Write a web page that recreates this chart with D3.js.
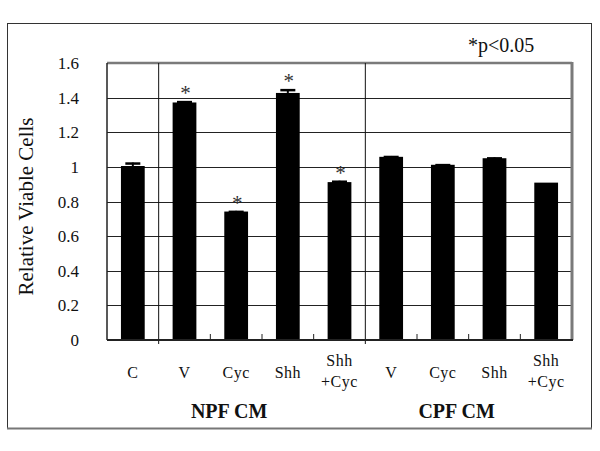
<!DOCTYPE html>
<html lang="en">
<head>
<meta charset="UTF-8" />
<title>Relative Viable Cells</title>
<script src="https://cdnjs.cloudflare.com/ajax/libs/d3/7.8.5/d3.min.js"></script>
<style>
  body { margin: 0; background: #fff; }
  svg text { font-family: "Times New Roman", "Liberation Serif", "DejaVu Serif", serif; fill: #111; }
</style>
</head>
<body>
<svg id="svg"></svg>
<script>
  // data
  const categories = ["C", "V_n", "Cyc_n", "Shh_n", "ShhCyc_n", "V_c", "Cyc_c", "Shh_c", "ShhCyc_c"];
  const labels = [["C"], ["V"], ["Cyc"], ["Shh"], ["Shh", "+Cyc"], ["V"], ["Cyc"], ["Shh"], ["Shh", "+Cyc"]];
  const values = [1.005, 1.372, 0.742, 1.427, 0.912, 1.058, 1.012, 1.050, 0.909];
  const errors = [0.02, 0.008, 0.004, 0.022, 0.008, 0.005, 0.004, 0.005, 0.0];
  const significant = [false, true, true, true, true, false, false, false, false];
  const groups = ["NPF CM", "CPF CM"];
  const yTicks = [0, 0.2, 0.4, 0.6, 0.8, 1, 1.2, 1.4, 1.6];

  const width = 600, height = 451;
  const margin = { top: 63, right: 28, bottom: 111, left: 107 };
  const font = "'Times New Roman', 'Liberation Serif', 'DejaVu Serif', serif";
  const svg = d3.select("#svg").attr("width", width).attr("height", height)
    .attr("font-family", font);

  // outer frame
  svg.append("rect")
    .attr("x", 7.5).attr("y", 23.5)
    .attr("width", 584).attr("height", 405)
    .attr("fill", "none").attr("stroke", "#333").attr("stroke-width", 1);
  svg.append("line")
    .attr("x1", 7).attr("x2", 592).attr("y1", 428.5).attr("y2", 428.5)
    .attr("stroke", "#777").attr("stroke-width", 2);

  const x = d3.scaleBand()
    .domain(categories)
    .range([margin.left, width - margin.right])
    .paddingInner(0.54).paddingOuter(0.27);
  const step = x.step();
  const x0 = margin.left;

  const y = d3.scaleLinear()
    .domain([0, 1.6])
    .range([height - margin.bottom, margin.top]);

  const g = svg.append("g");

  // gridlines
  g.selectAll(".grid")
    .data(yTicks.slice(1, -1))
    .join("line")
    .attr("class", "grid")
    .attr("x1", x0).attr("x2", width - margin.right)
    .attr("y1", d => Math.round(y(d)) + 0.5).attr("y2", d => Math.round(y(d)) + 0.5)
    .attr("stroke", "#222").attr("stroke-width", 1);

  // plot border: top and right grey
  g.append("line")
    .attr("x1", x0).attr("x2", width - margin.right)
    .attr("y1", y(1.6)).attr("y2", y(1.6))
    .attr("stroke", "#7a7a7a").attr("stroke-width", 2.5);
  g.append("line")
    .attr("x1", width - margin.right).attr("x2", width - margin.right)
    .attr("y1", y(1.6) - 1).attr("y2", y(0))
    .attr("stroke", "#7a7a7a").attr("stroke-width", 3);

  // group separators
  g.selectAll(".sep")
    .data([1, 5])
    .join("line")
    .attr("class", "sep")
    .attr("x1", i => x0 + i * step).attr("x2", i => x0 + i * step)
    .attr("y1", y(1.6)).attr("y2", y(0) + 4)
    .attr("stroke", "#111").attr("stroke-width", 1);

  // small inner ticks at other category boundaries
  g.selectAll(".tick-b")
    .data([2, 3, 4, 6, 7, 8])
    .join("line")
    .attr("class", "tick-b")
    .attr("x1", i => x0 + i * step).attr("x2", i => x0 + i * step)
    .attr("y1", y(0) - 6).attr("y2", y(0))
    .attr("stroke", "#222").attr("stroke-width", 1);

  // bars
  g.selectAll(".bar")
    .data(categories)
    .join("rect")
    .attr("class", "bar")
    .attr("x", d => x(d))
    .attr("width", x.bandwidth())
    .attr("y", (d, i) => y(values[i]))
    .attr("height", (d, i) => y(0) - y(values[i]))
    .attr("fill", "#000");

  // error bars (upper only)
  const errTop = d => { const i = categories.indexOf(d); return y(values[i] + errors[i]); };
  const eb = g.selectAll(".err")
    .data(categories.filter((d, i) => errors[i] > 0))
    .join("g")
    .attr("class", "err");
  eb.append("line")
    .attr("x1", d => x(d) + x.bandwidth() / 2).attr("x2", d => x(d) + x.bandwidth() / 2)
    .attr("y1", d => y(values[categories.indexOf(d)]))
    .attr("y2", errTop)
    .attr("stroke", "#000").attr("stroke-width", 2);
  eb.append("line")
    .attr("x1", d => x(d) + x.bandwidth() / 2 - 7.5).attr("x2", d => x(d) + x.bandwidth() / 2 + 7.5)
    .attr("y1", d => errTop(d) + 1).attr("y2", d => errTop(d) + 1)
    .attr("stroke", "#000").attr("stroke-width", 2.5);

  // significance asterisks
  g.selectAll(".star")
    .data(categories.filter((d, i) => significant[i]))
    .join("text")
    .attr("class", "star")
    .attr("x", d => x(d) + x.bandwidth() / 2 + 1)
    .attr("y", d => errTop(d) - 1)
    .attr("text-anchor", "middle")
    .style("font-size", "21px")
    .style("fill", "#333")
    .text("*");

  // axes lines
  g.append("line")
    .attr("x1", x0).attr("x2", x0)
    .attr("y1", y(1.6)).attr("y2", y(0))
    .attr("stroke", "#222").attr("stroke-width", 1.5);
  g.append("line")
    .attr("x1", x0).attr("x2", width - margin.right + 1)
    .attr("y1", y(0)).attr("y2", y(0))
    .attr("stroke", "#222").attr("stroke-width", 2);

  // y tick labels
  g.selectAll(".ylab")
    .data(yTicks)
    .join("text")
    .attr("class", "ylab")
    .attr("x", 79)
    .attr("y", d => y(d) + 6)
    .attr("text-anchor", "end")
    .style("font-size", "17px")
    .text(d => d3.format("~g")(d));

  // y axis title
  svg.append("text")
    .attr("transform", `translate(33,${(y(0) + y(1.6)) / 2 + 5}) rotate(-90)`)
    .attr("text-anchor", "middle")
    .style("font-size", "21px")
    .text("Relative Viable Cells");

  // category labels
  const cl = g.selectAll(".clab")
    .data(categories)
    .join("text")
    .attr("class", "clab")
    .attr("text-anchor", "middle")
    .style("font-size", "16px")
    .style("letter-spacing", "0.5px");
  cl.each(function (d, i) {
    const t = d3.select(this);
    const cx = x(d) + x.bandwidth() / 2;
    const lines = labels[i];
    lines.forEach((s, k) => {
      t.append("tspan")
        .attr("x", cx)
        .attr("y", lines.length === 1 ? 378 : 366 + k * 21)
        .text(s);
    });
  });

  // group labels
  const groupCenters = [x0 + 2.5 * step - 7, x0 + 7 * step - 12];
  svg.selectAll(".glab")
    .data(groups)
    .join("text")
    .attr("class", "glab")
    .attr("x", (d, i) => groupCenters[i])
    .attr("y", 418)
    .attr("text-anchor", "middle")
    .style("font-size", "20px")
    .style("font-weight", "bold")
    .text(d => d);

  // significance note
  svg.append("text")
    .attr("x", 468).attr("y", 52)
    .style("font-size", "20px")
    .text("*p<0.05");
</script>
</body>
</html>
